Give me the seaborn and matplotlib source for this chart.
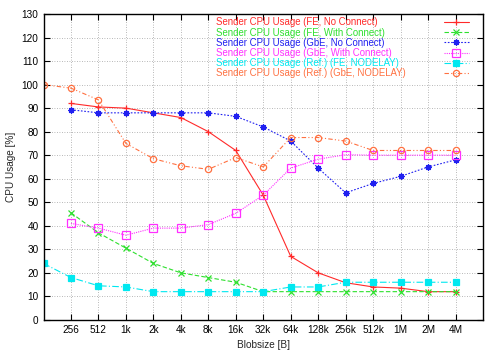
# CPU usage do sender por tamanho de bloco

import numpy as np
import pandas as pd
import seaborn as sns
import matplotlib
matplotlib.use("Agg")
import matplotlib.pyplot as plt
from matplotlib.lines import Line2D

# Dados
tick_labels = ["256", "512", "1k", "2k", "4k", "8k", "16k", "32k",
               "64k", "128k", "256k", "512k", "1M", "2M", "4M"]
blob_idx = list(range(0, 16))  # 0 = 128 (só nas séries Ref.)

fe_no_connect = [92, 90.5, 90, 88, 86, 80, 72, 53, 27, 20, 15.8, 14, 13.5, 12, 12]
fe_with_connect = [45.5, 37, 30.5, 24, 20, 18, 16, 12, 12, 12, 12, 12, 12, 12, 12]
gbe_no_connect = [89.3, 88, 88, 88, 88, 88, 86.5, 82, 76, 64.5, 54, 58, 61, 65, 68]
gbe_with_connect = [41, 39, 36, 39, 39, 40.5, 45.3, 53, 64.5, 68.3, 70.2, 70, 70, 70, 70]
ref_fe_nodelay = [24, 18, 14.5, 14, 12, 12, 12, 12, 12, 14, 14, 16, 16, 16, 16, 16]
ref_gbe_nodelay = [100, 98.5, 93.5, 75, 68.5, 65.5, 64, 69, 65, 77.5, 77.5, 76, 72, 72, 72, 72]

labels = ["Sender CPU Usage (FE, No Connect)",
          "Sender CPU Usage (FE, With Connect)",
          "Sender CPU Usage (GbE, No Connect)",
          "Sender CPU Usage (GbE, With Connect)",
          "Sender CPU Usage (Ref.) (FE, NODELAY)",
          "Sender CPU Usage (Ref.) (GbE, NODELAY)"]

series = [
    (blob_idx[1:], fe_no_connect, "#ff2a2a", "-", "+", "none"),
    (blob_idx[1:], fe_with_connect, "#2ee02e", (0, (4, 2)), "x", "none"),
    (blob_idx[1:], gbe_no_connect, "#2020f0", (0, (1.5, 1.5)), (8, 2, 0), "none"),
    (blob_idx[1:], gbe_with_connect, "#ff30ff", (0, (1, 1)), "s", "open"),
    (blob_idx, ref_fe_nodelay, "#00e8f0", (0, (6, 2, 1, 2)), "s", "fill"),
    (blob_idx, ref_gbe_nodelay, "#ff7040", (0, (4, 2, 1, 2, 1, 2)), "o", "open"),
]

sns.set_style("ticks")
plt.rcParams["font.family"] = ["Liberation Sans", "DejaVu Sans"]
fs = 7.2
fs_leg = 6.9

fig = plt.figure(figsize=(5, 3.5), dpi=100)
ax = fig.add_axes([0.087, 0.086, 0.879, 0.874])

handles = []
for (x, y, cor, ls, mk, fill), lab in zip(series, labels):
    df = pd.DataFrame({"x": x, "y": y})
    kw = dict(marker=mk, markersize=4.5, markeredgewidth=0.9, color=cor,
              linestyle=ls, linewidth=0.8)
    if fill == "open":
        kw["markerfacecolor"] = "none"
    else:
        kw["markerfacecolor"] = cor
    kw["markeredgecolor"] = cor
    if mk == "s" and fill == "fill":
        kw["markersize"] = 4.2
    if mk == "s" and fill == "open":
        kw["markersize"] = 5.2
    sns.lineplot(data=df, x="x", y="y", ax=ax, **kw)
    handles.append(ax.lines[-1])

ax.set_xlim(0, 16)
ax.set_ylim(0, 130)
ax.set_xticks(blob_idx[1:])
ax.set_xticklabels(tick_labels)
ax.set_yticks(np.arange(0, 131, 10))
ax.tick_params(direction="in", top=True, right=True, length=4,
               labelsize=fs, width=0.8, colors="black")
ax.grid(True, linestyle=(0, (1, 2)), color="#a0a0a0", linewidth=0.6)
for s in ax.spines.values():
    s.set_linewidth(1)
    s.set_color("black")

ax.set_xlabel("Blobsize [B]", fontsize=fs)
ax.set_ylabel("CPU Usage [%]", fontsize=fs)

# legenda: textos alinhados à esquerda + amostras à direita (estilo gnuplot)
vazios = [Line2D([], [], linestyle="none", marker="none") for _ in labels]
leg_txt = ax.legend(vazios, labels, loc="upper left", bbox_to_anchor=(0.384, 1.0),
                    frameon=False, fontsize=fs_leg, handlelength=0, handletextpad=0,
                    labelspacing=0.02, borderaxespad=0, borderpad=0.35)
for txt, (_, _, cor, _, _, _) in zip(leg_txt.get_texts(), series):
    txt.set_color(cor)
ax.add_artist(leg_txt)

ax.legend(handles, [" "] * len(labels), loc="upper right", bbox_to_anchor=(0.975, 1.0),
          frameon=False, fontsize=fs_leg, handlelength=2.6, handletextpad=0,
          labelspacing=0.02, borderaxespad=0, borderpad=0.35, markerfirst=False)

plt.savefig("out.png", dpi=100)
